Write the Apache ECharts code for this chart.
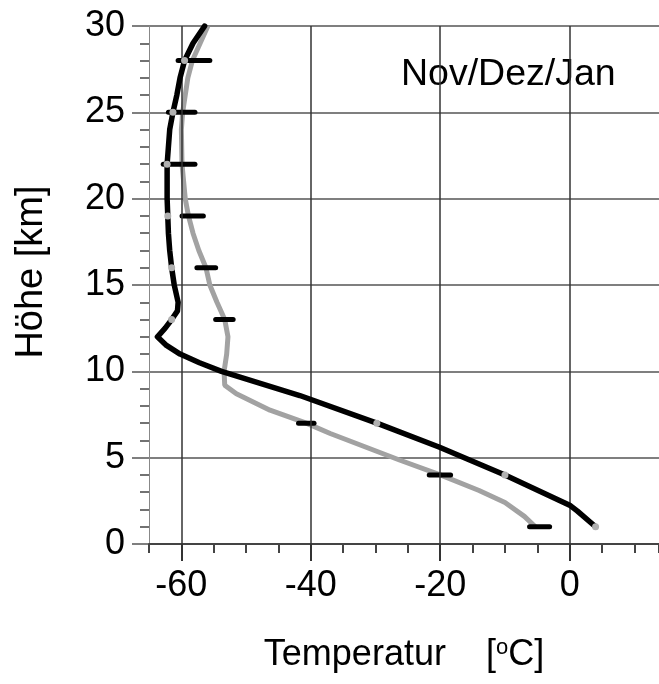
<!DOCTYPE html>
<html>
<head>
<meta charset="utf-8">
<script src="https://cdn.jsdelivr.net/npm/echarts@6/dist/echarts.min.js"></script>
<style>
  html, body { margin: 0; padding: 0; background: #fff; }
  #chart { width: 659px; height: 684px; }
</style>
</head>
<body>
<div id="chart"></div>
<script>
// Mean temperature profile (black) and comparison profile (gray), winter months
const blackHeight = [1.0, 1.9, 2.25, 4.0, 5.6, 7.0, 8.6, 10.0, 10.5, 11.0, 11.5, 12.0, 12.5, 13.0, 13.5, 14.0, 15.0, 16.0, 17.0, 18.0, 19.0, 20.0, 22.0, 24.0, 25.0, 26.0, 27.0, 28.0, 29.0, 30.0];
const blackTemp   = [4.0, 1.2, 0.0, -10.0, -20.1, -29.8, -41.7, -53.8, -57.2, -60.2, -62.3, -63.7, -62.5, -61.5, -60.6, -60.5, -61.1, -61.5, -61.8, -62.0, -62.1, -62.2, -62.2, -61.8, -61.3, -60.7, -60.2, -59.5, -58.2, -56.4];

const grayHeight = [1.0, 1.6, 2.4, 3.1, 4.0, 4.85, 6.4, 7.0, 7.75, 8.7, 9.2, 10.0, 11.0, 12.0, 13.0, 14.0, 15.0, 16.0, 17.0, 18.0, 19.0, 20.0, 22.0, 24.0, 25.0, 26.0, 27.0, 28.0, 29.0, 30.0];
const grayTemp   = [-5.3, -7.0, -10.0, -14.0, -20.0, -26.2, -37.0, -40.7, -46.3, -51.5, -53.3, -53.4, -53.0, -52.8, -53.3, -54.5, -55.6, -56.2, -57.3, -58.2, -58.9, -59.4, -59.9, -60.0, -59.8, -59.4, -59.0, -58.3, -57.1, -55.9];

// Spread bars at the sounding levels
const barHeight = [1, 4, 7, 13, 16, 19, 22, 25, 28];
const barLow    = [-6.2, -21.7, -41.9, -54.7, -57.6, -59.9, -62.8, -62.0, -60.5];
const barHigh   = [-3.1, -18.4, -39.5, -52.0, -54.7, -56.6, -57.9, -57.9, -55.6];

// Levels marked on the black profile
const markHeights = [1, 4, 7, 13, 16, 19, 22, 25, 28];

const xTickLabels = [-60, -40, -20, 0];

const FONT = "'Liberation Sans', Arial, Helvetica, sans-serif";
const GRID_H = '#555';
const GRID_V = '#333';

const chart = echarts.init(document.getElementById('chart'), null, { renderer: 'canvas' });

const blackData = blackHeight.map((h, i) => ({
  value: [blackTemp[i], h],
  symbol: markHeights.includes(h) ? 'circle' : 'none'
}));
const grayData = grayHeight.map((h, i) => [grayTemp[i], h]);
const barData = barHeight.map((h, i) => [barLow[i], barHigh[i], h]);

chart.setOption({
  animation: false,
  backgroundColor: '#fff',
  grid: { left: 149, top: 26, right: 0, bottom: 140, containLabel: false },
  xAxis: [
    {
      type: 'value', min: -65, max: 13.8, interval: 5,
      axisLine: { show: true, onZero: false, lineStyle: { color: '#444', width: 2 } },
      axisTick: { show: true, length: 9, lineStyle: { color: '#444', width: 2 } },
      axisLabel: { show: false },
      splitLine: { show: false },
      name: 'Temperatur    [{s|o}C]',
      nameLocation: 'middle',
      nameGap: 93,
      nameTextStyle: {
        fontFamily: FONT, fontSize: 36, color: '#000',
        rich: { s: { fontFamily: FONT, fontSize: 22, color: '#000', verticalAlign: 'top', padding: [0, 0, 12, 0] } }
      }
    },
    {
      type: 'value', min: -65, max: 13.8, position: 'bottom',
      axisLine: { show: false, onZero: false },
      axisTick: { show: true, length: 17, customValues: xTickLabels, lineStyle: { color: GRID_V, width: 2 } },
      axisLabel: {
        show: true, customValues: xTickLabels, margin: 24,
        fontFamily: FONT, fontSize: 36, color: '#000'
      },
      splitLine: { show: false }
    }
  ],
  yAxis: {
    type: 'value', min: 0, max: 30, interval: 5,
    axisLine: { show: true, onZero: false, lineStyle: { color: '#888', width: 1 } },
    axisTick: { show: true, length: 17, lineStyle: { color: GRID_H, width: 1.5 } },
    minorTick: { show: true, splitNumber: 5, length: 9, lineStyle: { color: '#444', width: 1.5 } },
    axisLabel: { margin: 24, fontFamily: FONT, fontSize: 36, color: '#000' },
    splitLine: { show: true, lineStyle: { color: GRID_H, width: 1.5 } }
  },
  graphic: [
    {
      type: 'text', left: 401, top: 56, silent: true,
      style: { text: 'Nov/Dez/Jan', fontFamily: FONT, fontSize: 37.5, fill: '#000' }
    },
    {
      type: 'text', x: 32, y: 272, rotation: Math.PI / 2, silent: true,
      style: {
        text: 'Höhe [km]', fontFamily: FONT, fontSize: 38, fill: '#000',
        align: 'center', verticalAlign: 'middle'
      }
    }
  ],
  series: [
    {
      // vertical grid lines at the labelled temperatures
      type: 'line', data: [], silent: true, z: 1,
      markLine: {
        silent: true, symbol: 'none', animation: false,
        label: { show: false },
        lineStyle: { color: GRID_V, width: 1.5, type: 'solid' },
        data: xTickLabels.map(v => ({ xAxis: v }))
      }
    },
    {
      name: 'Vergleich', type: 'line', data: grayData, z: 3,
      showSymbol: false, symbol: 'none',
      lineStyle: { color: '#a2a2a2', width: 5 }
    },
    {
      name: 'Spannweite', type: 'custom', z: 4,
      data: barData,
      encode: { x: [0, 1], y: 2 },
      renderItem: (params, api) => {
        const a = api.coord([api.value(0), api.value(2)]);
        const b = api.coord([api.value(1), api.value(2)]);
        return {
          type: 'line',
          shape: { x1: a[0], y1: a[1], x2: b[0], y2: b[1] },
          style: { stroke: '#000', lineWidth: 5, lineCap: 'round' }
        };
      }
    },
    {
      name: 'Mittel', type: 'line', data: blackData, z: 5,
      showSymbol: true, symbolSize: 7,
      itemStyle: { color: '#b0b0b0', borderWidth: 0 },
      lineStyle: { color: '#000', width: 5.5, join: 'round', cap: 'round' }
    }
  ]
});
</script>
</body>
</html>
